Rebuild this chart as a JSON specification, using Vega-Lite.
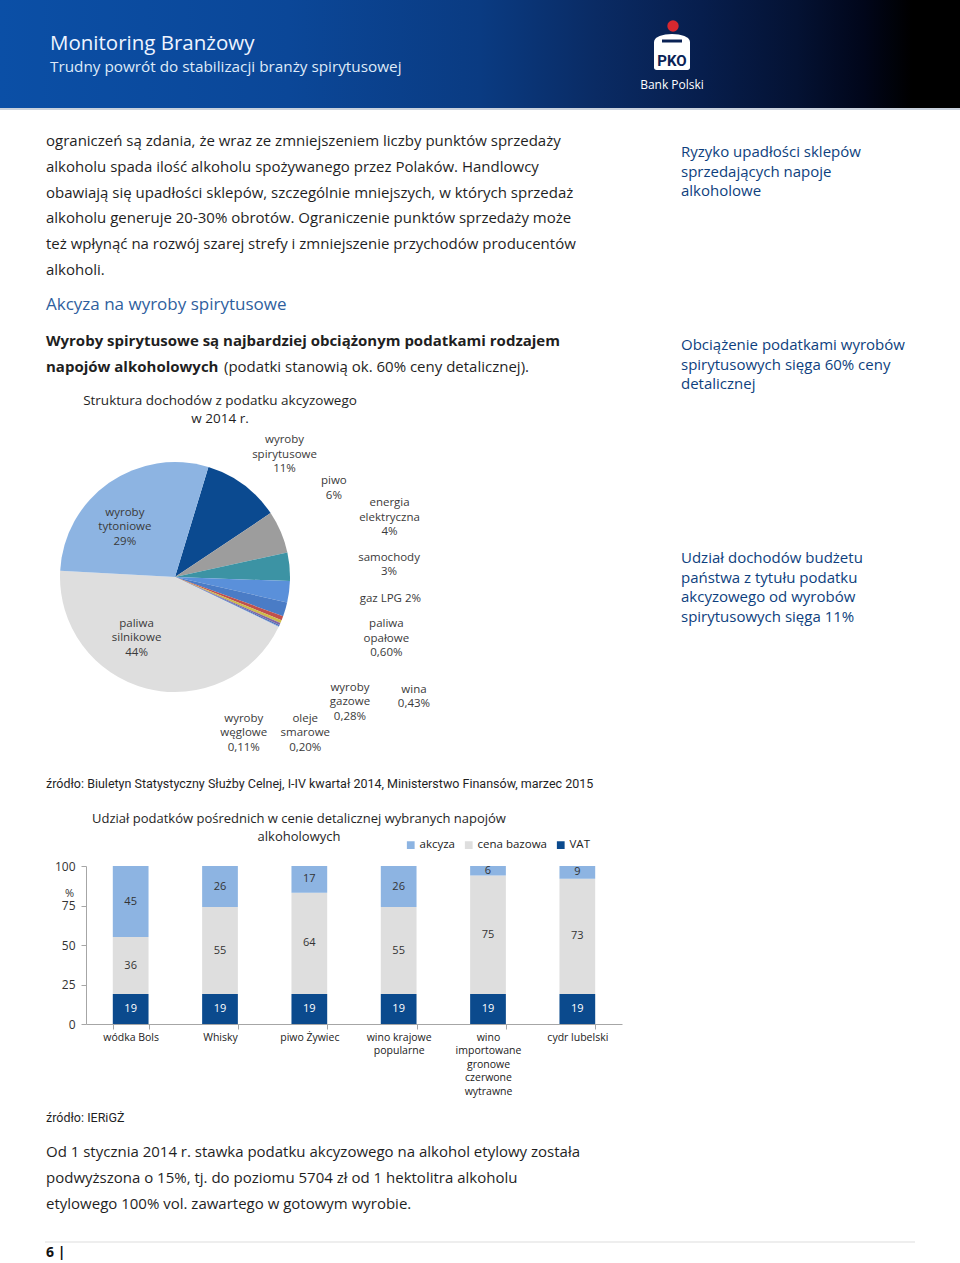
{
  "$schema": "https://vega.github.io/schema/vega-lite/v6.json",
  "padding": 0,
  "background": "white",
  "spacing": 0,
  "bounds": "flush",
  "resolve": {"scale": {"color": "independent", "theta": "independent", "x": "independent", "y": "independent"}, "legend": {"color": "independent"}},
  "config": {"view": {"stroke": null}, "font": "Open Sans"},
  "vconcat": [
    {
      "width": 960, "height": 110,
      "layer": [
        {"data": {"values": [{}]},
         "mark": {"type": "rect", "fill": {"gradient": "linear", "x1": 0, "x2": 1, "y1": 0, "y2": 0, "stops": [
           {"offset": 0, "color": "#0b4fa6"}, {"offset": 0.3, "color": "#0b4798"}, {"offset": 0.5, "color": "#0a3b82"},
           {"offset": 0.62, "color": "#0a2b64"}, {"offset": 0.73, "color": "#071e4d"}, {"offset": 0.83, "color": "#041233"},
           {"offset": 0.9, "color": "#01061a"}, {"offset": 0.95, "color": "#000000"}, {"offset": 1, "color": "#000000"}]}},
         "encoding": {"x": {"value": 0}, "x2": {"value": "width"}, "y": {"value": 0}, "y2": {"value": 108}}},
        {"data": {"values": [{}]},
         "mark": {"type": "rect", "fill": "#c9d1dc"},
         "encoding": {"x": {"value": 0}, "x2": {"value": "width"}, "y": {"value": 108}, "y2": {"value": "height"}}},
        {"data": {"values": [{"t": "Monitoring Branżowy"}]},
         "mark": {"type": "text", "x": 50, "y": 50, "align": "left", "baseline": "alphabetic", "fontSize": 20.5, "color": "#eef4ff"},
         "encoding": {"text": {"field": "t"}}},
        {"data": {"values": [{"t": "Trudny powrót do stabilizacji branży spirytusowej"}]},
         "mark": {"type": "text", "x": 50, "y": 72, "align": "left", "baseline": "alphabetic", "fontSize": 15.3, "color": "#dfeaf8"},
         "encoding": {"text": {"field": "t"}}},
        {"data": {"values": [{"czesc": "kropka"}]},
         "mark": {"type": "point", "x": 673, "y": 26, "shape": "circle", "filled": true, "size": 130, "color": "#d7282f", "opacity": 1},
         "encoding": {}},
        {"data": {"values": [{"czesc": "skarbonka"}]},
         "mark": {"type": "point", "x": 672, "y": 52, "shape": "M-1,-0.55 C-1,-1.15 1,-1.15 1,-0.55 L1,0.85 Q1,1 0.85,1 L-0.85,1 Q-1,1 -1,0.85 Z", "filled": true, "size": 1296, "color": "#ffffff", "opacity": 1},
         "encoding": {}},
        {"data": {"values": [{"czesc": "szczelina"}]},
         "mark": {"type": "point", "x": 672, "y": 41, "shape": "M-1,-0.15 L1,-0.15 L1,0.15 L-1,0.15 Z", "filled": true, "size": 400, "color": "#0a2255", "opacity": 1},
         "encoding": {}},
        {"data": {"values": [{"t": "PKO"}]},
         "mark": {"type": "text", "x": 672, "y": 66, "align": "center", "baseline": "alphabetic", "fontSize": 15, "fontWeight": "bold", "font": "Roboto", "color": "#0a2255"},
         "encoding": {"text": {"field": "t"}}},
        {"data": {"values": [{"t": "Bank Polski"}]},
         "mark": {"type": "text", "x": 672, "y": 89, "align": "center", "baseline": "alphabetic", "fontSize": 12, "color": "#ffffff"},
         "encoding": {"text": {"field": "t"}}}
      ]
    },
    {
      "width": 960, "height": 280,
      "layer": [
        {"data": {"values": [{"t": "ograniczeń są zdania, że wraz ze zmniejszeniem liczby punktów sprzedaży\nalkoholu spada ilość alkoholu spożywanego przez Polaków. Handlowcy\nobawiają się upadłości sklepów, szczególnie mniejszych, w których sprzedaż\nalkoholu generuje 20-30% obrotów. Ograniczenie punktów sprzedaży może\nteż wpłynąć na rozwój szarej strefy i zmniejszenie przychodów producentów\nalkoholi."}]},
         "mark": {"type": "text", "x": 46, "y": 36, "align": "left", "baseline": "alphabetic", "lineBreak": "\n", "lineHeight": 25.8, "fontSize": 15, "color": "#1f1f1f"},
         "encoding": {"text": {"field": "t"}}},
        {"data": {"values": [{"t": "Ryzyko upadłości sklepów\nsprzedających napoje\nalkoholowe"}]},
         "mark": {"type": "text", "x": 681, "y": 47, "align": "left", "baseline": "alphabetic", "lineBreak": "\n", "lineHeight": 19.5, "fontSize": 15, "color": "#0e3f7e"},
         "encoding": {"text": {"field": "t"}}},
        {"data": {"values": [{"t": "Akcyza na wyroby spirytusowe"}]},
         "mark": {"type": "text", "x": 46, "y": 200, "align": "left", "baseline": "alphabetic", "fontSize": 17, "color": "#2f5f9e"},
         "encoding": {"text": {"field": "t"}}},
        {"data": {"values": [{"t": "Wyroby spirytusowe są najbardziej obciążonym podatkami rodzajem\nnapojów alkoholowych"}]},
         "mark": {"type": "text", "x": 46, "y": 236, "align": "left", "baseline": "alphabetic", "lineBreak": "\n", "lineHeight": 26, "fontSize": 15, "fontWeight": "bold", "color": "#1f1f1f"},
         "encoding": {"text": {"field": "t"}}},
        {"data": {"values": [{"t": "(podatki stanowią ok. 60% ceny detalicznej)."}]},
         "mark": {"type": "text", "x": 224, "y": 262, "align": "left", "baseline": "alphabetic", "fontSize": 15, "color": "#1f1f1f"},
         "encoding": {"text": {"field": "t"}}},
        {"data": {"values": [{"t": "Obciążenie podatkami wyrobów\nspirytusowych sięga 60% ceny\ndetalicznej"}]},
         "mark": {"type": "text", "x": 681, "y": 240, "align": "left", "baseline": "alphabetic", "lineBreak": "\n", "lineHeight": 19.5, "fontSize": 15, "color": "#0e3f7e"},
         "encoding": {"text": {"field": "t"}}}
      ]
    },
    {
      "width": 350, "height": 374,
      "layer": [
        {
          "data": {"values": [
            {"idx": 1, "kategoria": "wyroby spirytusowe", "wartosc": 11, "etykieta": "wyroby\nspirytusowe\n11%"},
            {"idx": 2, "kategoria": "piwo", "wartosc": 6, "etykieta": "piwo\n6%"},
            {"idx": 3, "kategoria": "energia elektryczna", "wartosc": 4, "etykieta": "energia\nelektryczna\n4%"},
            {"idx": 4, "kategoria": "samochody", "wartosc": 3, "etykieta": "samochody\n3%"},
            {"idx": 5, "kategoria": "gaz LPG", "wartosc": 2, "etykieta": "gaz LPG 2%"},
            {"idx": 6, "kategoria": "paliwa opałowe", "wartosc": 0.6, "etykieta": "paliwa\nopałowe\n0,60%"},
            {"idx": 7, "kategoria": "wina", "wartosc": 0.43, "etykieta": "wina\n0,43%"},
            {"idx": 8, "kategoria": "wyroby gazowe", "wartosc": 0.28, "etykieta": "wyroby\ngazowe\n0,28%"},
            {"idx": 9, "kategoria": "oleje smarowe", "wartosc": 0.2, "etykieta": "oleje\nsmarowe\n0,20%"},
            {"idx": 10, "kategoria": "wyroby węglowe", "wartosc": 0.11, "etykieta": "wyroby\nwęglowe\n0,11%"},
            {"idx": 11, "kategoria": "paliwa silnikowe", "wartosc": 44, "etykieta": "paliwa\nsilnikowe\n44%"},
            {"idx": 12, "kategoria": "wyroby tytoniowe", "wartosc": 29, "etykieta": "wyroby\ntytoniowe\n29%"}
          ]},
          "layer": [
            {"mark": {"type": "arc", "outerRadius": 115},
             "encoding": {
               "theta": {"field": "wartosc", "type": "quantitative", "stack": true, "scale": {"range": [0.295, 6.578]}},
               "order": {"field": "idx", "type": "quantitative"},
               "color": {"field": "kategoria", "type": "nominal", "legend": null, "scale": {
                 "domain": ["wyroby spirytusowe", "piwo", "energia elektryczna", "samochody", "gaz LPG", "paliwa opałowe", "wina", "wyroby gazowe", "oleje smarowe", "wyroby węglowe", "paliwa silnikowe", "wyroby tytoniowe"],
                 "range": ["#0b4a90", "#9d9d9d", "#3c93a4", "#5a90da", "#4a7cc6", "#c0504d", "#cdbb4a", "#8064a2", "#4f6fb8", "#7aa3d8", "#dedede", "#8db4e2"]}}
             }},
            {"mark": {"type": "text", "radius": 115, "dx": 41, "dy": -44.5, "align": "center", "baseline": "middle", "lineBreak": "\n", "lineHeight": 14.5, "fontSize": 11.5, "color": "#3a3a3a"},
             "encoding": {"theta": {"field": "wartosc", "type": "quantitative", "stack": true}, "order": {"field": "idx", "type": "quantitative"},
               "text": {"condition": {"test": "datum.idx === 1", "field": "etykieta"}, "value": ""}}},
            {"mark": {"type": "text", "radius": 115, "dx": 53, "dy": -51, "align": "center", "baseline": "middle", "lineBreak": "\n", "lineHeight": 14.5, "fontSize": 11.5, "color": "#3a3a3a"},
             "encoding": {"theta": {"field": "wartosc", "type": "quantitative", "stack": true}, "order": {"field": "idx", "type": "quantitative"},
               "text": {"condition": {"test": "datum.idx === 2", "field": "etykieta"}, "value": ""}}},
            {"mark": {"type": "text", "radius": 115, "dx": 100, "dy": -63.5, "align": "center", "baseline": "middle", "lineBreak": "\n", "lineHeight": 14.5, "fontSize": 11.5, "color": "#3a3a3a"},
             "encoding": {"theta": {"field": "wartosc", "type": "quantitative", "stack": true}, "order": {"field": "idx", "type": "quantitative"},
               "text": {"condition": {"test": "datum.idx === 3", "field": "etykieta"}, "value": ""}}},
            {"mark": {"type": "text", "radius": 115, "dx": 100, "dy": -34, "align": "center", "baseline": "middle", "lineBreak": "\n", "lineHeight": 14.5, "fontSize": 11.5, "color": "#3a3a3a"},
             "encoding": {"theta": {"field": "wartosc", "type": "quantitative", "stack": true}, "order": {"field": "idx", "type": "quantitative"},
               "text": {"condition": {"test": "datum.idx === 4", "field": "etykieta"}, "value": ""}}},
            {"mark": {"type": "text", "radius": 115, "dx": 105, "dy": -10, "align": "center", "baseline": "middle", "lineBreak": "\n", "lineHeight": 14.5, "fontSize": 11.5, "color": "#3a3a3a"},
             "encoding": {"theta": {"field": "wartosc", "type": "quantitative", "stack": true}, "order": {"field": "idx", "type": "quantitative"},
               "text": {"condition": {"test": "datum.idx === 5", "field": "etykieta"}, "value": ""}}},
            {"mark": {"type": "text", "radius": 115, "dx": 104, "dy": 6, "align": "center", "baseline": "middle", "lineBreak": "\n", "lineHeight": 14.5, "fontSize": 11.5, "color": "#3a3a3a"},
             "encoding": {"theta": {"field": "wartosc", "type": "quantitative", "stack": true}, "order": {"field": "idx", "type": "quantitative"},
               "text": {"condition": {"test": "datum.idx === 6", "field": "etykieta"}, "value": ""}}},
            {"mark": {"type": "text", "radius": 115, "dx": 133, "dy": 68, "align": "center", "baseline": "middle", "lineBreak": "\n", "lineHeight": 14.5, "fontSize": 11.5, "color": "#3a3a3a"},
             "encoding": {"theta": {"field": "wartosc", "type": "quantitative", "stack": true}, "order": {"field": "idx", "type": "quantitative"},
               "text": {"condition": {"test": "datum.idx === 7", "field": "etykieta"}, "value": ""}}},
            {"mark": {"type": "text", "radius": 115, "dx": 70, "dy": 64, "align": "center", "baseline": "middle", "lineBreak": "\n", "lineHeight": 14.5, "fontSize": 11.5, "color": "#3a3a3a"},
             "encoding": {"theta": {"field": "wartosc", "type": "quantitative", "stack": true}, "order": {"field": "idx", "type": "quantitative"},
               "text": {"condition": {"test": "datum.idx === 8", "field": "etykieta"}, "value": ""}}},
            {"mark": {"type": "text", "radius": 115, "dx": 26, "dy": 93, "align": "center", "baseline": "middle", "lineBreak": "\n", "lineHeight": 14.5, "fontSize": 11.5, "color": "#3a3a3a"},
             "encoding": {"theta": {"field": "wartosc", "type": "quantitative", "stack": true}, "order": {"field": "idx", "type": "quantitative"},
               "text": {"condition": {"test": "datum.idx === 9", "field": "etykieta"}, "value": ""}}},
            {"mark": {"type": "text", "radius": 115, "dx": -35, "dy": 92, "align": "center", "baseline": "middle", "lineBreak": "\n", "lineHeight": 14.5, "fontSize": 11.5, "color": "#3a3a3a"},
             "encoding": {"theta": {"field": "wartosc", "type": "quantitative", "stack": true}, "order": {"field": "idx", "type": "quantitative"},
               "text": {"condition": {"test": "datum.idx === 10", "field": "etykieta"}, "value": ""}}},
            {"mark": {"type": "text", "radius": 70, "dx": -21, "dy": -21, "align": "center", "baseline": "middle", "lineBreak": "\n", "lineHeight": 14.5, "fontSize": 11.5, "color": "#3a3a3a"},
             "encoding": {"theta": {"field": "wartosc", "type": "quantitative", "stack": true}, "order": {"field": "idx", "type": "quantitative"},
               "text": {"condition": {"test": "datum.idx === 11", "field": "etykieta"}, "value": ""}}},
            {"mark": {"type": "text", "radius": 70, "dx": -10, "dy": -7, "align": "center", "baseline": "middle", "lineBreak": "\n", "lineHeight": 14.5, "fontSize": 11.5, "color": "#3a3a3a"},
             "encoding": {"theta": {"field": "wartosc", "type": "quantitative", "stack": true}, "order": {"field": "idx", "type": "quantitative"},
               "text": {"condition": {"test": "datum.idx === 12", "field": "etykieta"}, "value": ""}}}
          ]
        },
        {"data": {"values": [{"t": "Struktura dochodów z podatku akcyzowego\nw 2014 r."}]},
         "mark": {"type": "text", "x": 220, "y": 15, "align": "center", "baseline": "alphabetic", "lineBreak": "\n", "lineHeight": 18, "fontSize": 13.5, "color": "#1f1f1f"},
         "encoding": {"text": {"field": "t"}}},
        {"data": {"values": [{"t": "Udział dochodów budżetu\npaństwa z tytułu podatku\nakcyzowego od wyrobów\nspirytusowych sięga 11%"}]},
         "mark": {"type": "text", "x": 681, "y": 173, "align": "left", "baseline": "alphabetic", "lineBreak": "\n", "lineHeight": 19.5, "fontSize": 15, "color": "#0e3f7e"},
         "encoding": {"text": {"field": "t"}}}
      ]
    },
    {
      "width": 960, "height": 102,
      "layer": [
        {"data": {"values": [{"t": "źródło: Biuletyn Statystyczny Służby Celnej, I-IV kwartał 2014, Ministerstwo Finansów, marzec 2015"}]},
         "mark": {"type": "text", "x": 46, "y": 24, "align": "left", "baseline": "alphabetic", "fontSize": 12.5, "font": "Roboto", "color": "#1f1f1f"},
         "encoding": {"text": {"field": "t"}}},
        {"data": {"values": [{"t": "Udział podatków pośrednich w cenie detalicznej wybranych napojów\nalkoholowych"}]},
         "mark": {"type": "text", "x": 299, "y": 59, "align": "center", "baseline": "alphabetic", "lineBreak": "\n", "lineHeight": 18, "fontSize": 13, "color": "#1f1f1f"},
         "encoding": {"text": {"field": "t"}}}
      ]
    },
    {
      "width": 622, "height": 158,
      "data": {"values": [
        {"napoj": "wódka Bols", "skladnik": "VAT", "wartosc": 19, "kolejnosc": 1},
        {"napoj": "wódka Bols", "skladnik": "cena bazowa", "wartosc": 36, "kolejnosc": 2},
        {"napoj": "wódka Bols", "skladnik": "akcyza", "wartosc": 45, "kolejnosc": 3},
        {"napoj": "Whisky", "skladnik": "VAT", "wartosc": 19, "kolejnosc": 1},
        {"napoj": "Whisky", "skladnik": "cena bazowa", "wartosc": 55, "kolejnosc": 2},
        {"napoj": "Whisky", "skladnik": "akcyza", "wartosc": 26, "kolejnosc": 3},
        {"napoj": "piwo Żywiec", "skladnik": "VAT", "wartosc": 19, "kolejnosc": 1},
        {"napoj": "piwo Żywiec", "skladnik": "cena bazowa", "wartosc": 64, "kolejnosc": 2},
        {"napoj": "piwo Żywiec", "skladnik": "akcyza", "wartosc": 17, "kolejnosc": 3},
        {"napoj": "wino krajowe popularne", "skladnik": "VAT", "wartosc": 19, "kolejnosc": 1},
        {"napoj": "wino krajowe popularne", "skladnik": "cena bazowa", "wartosc": 55, "kolejnosc": 2},
        {"napoj": "wino krajowe popularne", "skladnik": "akcyza", "wartosc": 26, "kolejnosc": 3},
        {"napoj": "wino importowane gronowe czerwone wytrawne", "skladnik": "VAT", "wartosc": 19, "kolejnosc": 1},
        {"napoj": "wino importowane gronowe czerwone wytrawne", "skladnik": "cena bazowa", "wartosc": 75, "kolejnosc": 2},
        {"napoj": "wino importowane gronowe czerwone wytrawne", "skladnik": "akcyza", "wartosc": 6, "kolejnosc": 3},
        {"napoj": "cydr lubelski", "skladnik": "VAT", "wartosc": 19, "kolejnosc": 1},
        {"napoj": "cydr lubelski", "skladnik": "cena bazowa", "wartosc": 73, "kolejnosc": 2},
        {"napoj": "cydr lubelski", "skladnik": "akcyza", "wartosc": 9, "kolejnosc": 3}
      ]},
      "encoding": {
        "x": {"field": "napoj", "type": "nominal",
              "sort": ["wódka Bols", "Whisky", "piwo Żywiec", "wino krajowe popularne", "wino importowane gronowe czerwone wytrawne", "cydr lubelski"],
              "scale": {"range": [86, 622], "paddingInner": 0.6, "paddingOuter": 0.3},
              "axis": {"title": null, "labelAngle": 0, "tickBand": "extent", "tickSize": 5, "tickColor": "#a6a6a6", "domainColor": "#a6a6a6",
                       "labelFontSize": 10.5, "labelColor": "#222222", "labelPadding": 3, "labelLineHeight": 13.5, "labelOverlap": false, "labelLimit": 0,
                       "labelExpr": "datum.label === 'wino krajowe popularne' ? ['wino krajowe', 'popularne'] : datum.label === 'wino importowane gronowe czerwone wytrawne' ? ['wino', 'importowane', 'gronowe', 'czerwone', 'wytrawne'] : datum.label"}}
      },
      "layer": [
        {"mark": {"type": "bar", "clip": true},
         "encoding": {
           "y": {"field": "wartosc", "type": "quantitative", "stack": "zero", "scale": {"domain": [0, 100]},
                 "axis": {"values": [0, 25, 50, 75, 100], "offset": -86, "title": "%", "titleAngle": 0, "titleX": -17, "titleY": 27, "titleFontWeight": "normal", "titleFontSize": 11, "titleColor": "#333333", "titleAlign": "center", "titleBaseline": "middle",
                          "labelFontSize": 12, "labelColor": "#333333", "labelPadding": 6, "tickSize": 5, "tickColor": "#a6a6a6", "domainColor": "#a6a6a6", "grid": false}},
           "order": {"field": "kolejnosc", "type": "quantitative"},
           "color": {"field": "skladnik", "type": "nominal",
                     "scale": {"domain": ["akcyza", "cena bazowa", "VAT"], "range": ["#8db4e2", "#dedede", "#0b4a8d"]},
                     "legend": {"orient": "none", "legendX": 405, "legendY": -27, "direction": "horizontal", "title": null, "symbolType": "square", "symbolSize": 60, "symbolStrokeWidth": 0, "labelFontSize": 11.5, "labelColor": "#222222", "columnPadding": 8, "labelOffset": 3}}
         }},
        {"mark": {"type": "text", "fontSize": 11, "baseline": "middle", "align": "center"},
         "encoding": {
           "y": {"field": "wartosc", "type": "quantitative", "stack": "zero", "bandPosition": 0.5,
                 "axis": {"values": [0, 25, 50, 75, 100], "offset": -86, "title": "%", "titleAngle": 0, "titleX": -17, "titleY": 27, "titleFontWeight": "normal", "titleFontSize": 11, "titleColor": "#333333", "titleAlign": "center", "titleBaseline": "middle",
                          "labelFontSize": 12, "labelColor": "#333333", "labelPadding": 6, "tickSize": 5, "tickColor": "#a6a6a6", "domainColor": "#a6a6a6", "grid": false}},
           "order": {"field": "kolejnosc", "type": "quantitative"},
           "detail": {"field": "skladnik", "type": "nominal"},
           "text": {"field": "wartosc", "type": "quantitative"},
           "color": {"condition": {"test": "datum.skladnik === 'VAT'", "value": "#ffffff"}, "value": "#333333"}
         }}
      ]
    },
    {
      "width": 960, "height": 239,
      "layer": [
        {"data": {"values": [{"t": "źródło: IERiGŻ"}]},
         "mark": {"type": "text", "x": 46, "y": 98, "align": "left", "baseline": "alphabetic", "fontSize": 12.5, "font": "Roboto", "color": "#1f1f1f"},
         "encoding": {"text": {"field": "t"}}},
        {"data": {"values": [{"t": "Od 1 stycznia 2014 r. stawka podatku akcyzowego na alkohol etylowy została\npodwyższona o 15%, tj. do poziomu 5704 zł od 1 hektolitra alkoholu\netylowego 100% vol. zawartego w gotowym wyrobie."}]},
         "mark": {"type": "text", "x": 46, "y": 133, "align": "left", "baseline": "alphabetic", "lineBreak": "\n", "lineHeight": 26, "fontSize": 15, "color": "#1f1f1f"},
         "encoding": {"text": {"field": "t"}}},
        {"data": {"values": [{}]},
         "mark": {"type": "rule", "color": "#dddddd", "strokeWidth": 1},
         "encoding": {"x": {"value": 45}, "x2": {"value": 915}, "y": {"value": 218}}},
        {"data": {"values": [{"t": "6 |"}]},
         "mark": {"type": "text", "x": 46, "y": 233, "align": "left", "baseline": "alphabetic", "fontSize": 14, "fontWeight": "bold", "color": "#111111"},
         "encoding": {"text": {"field": "t"}}}
      ]
    }
  ]
}
